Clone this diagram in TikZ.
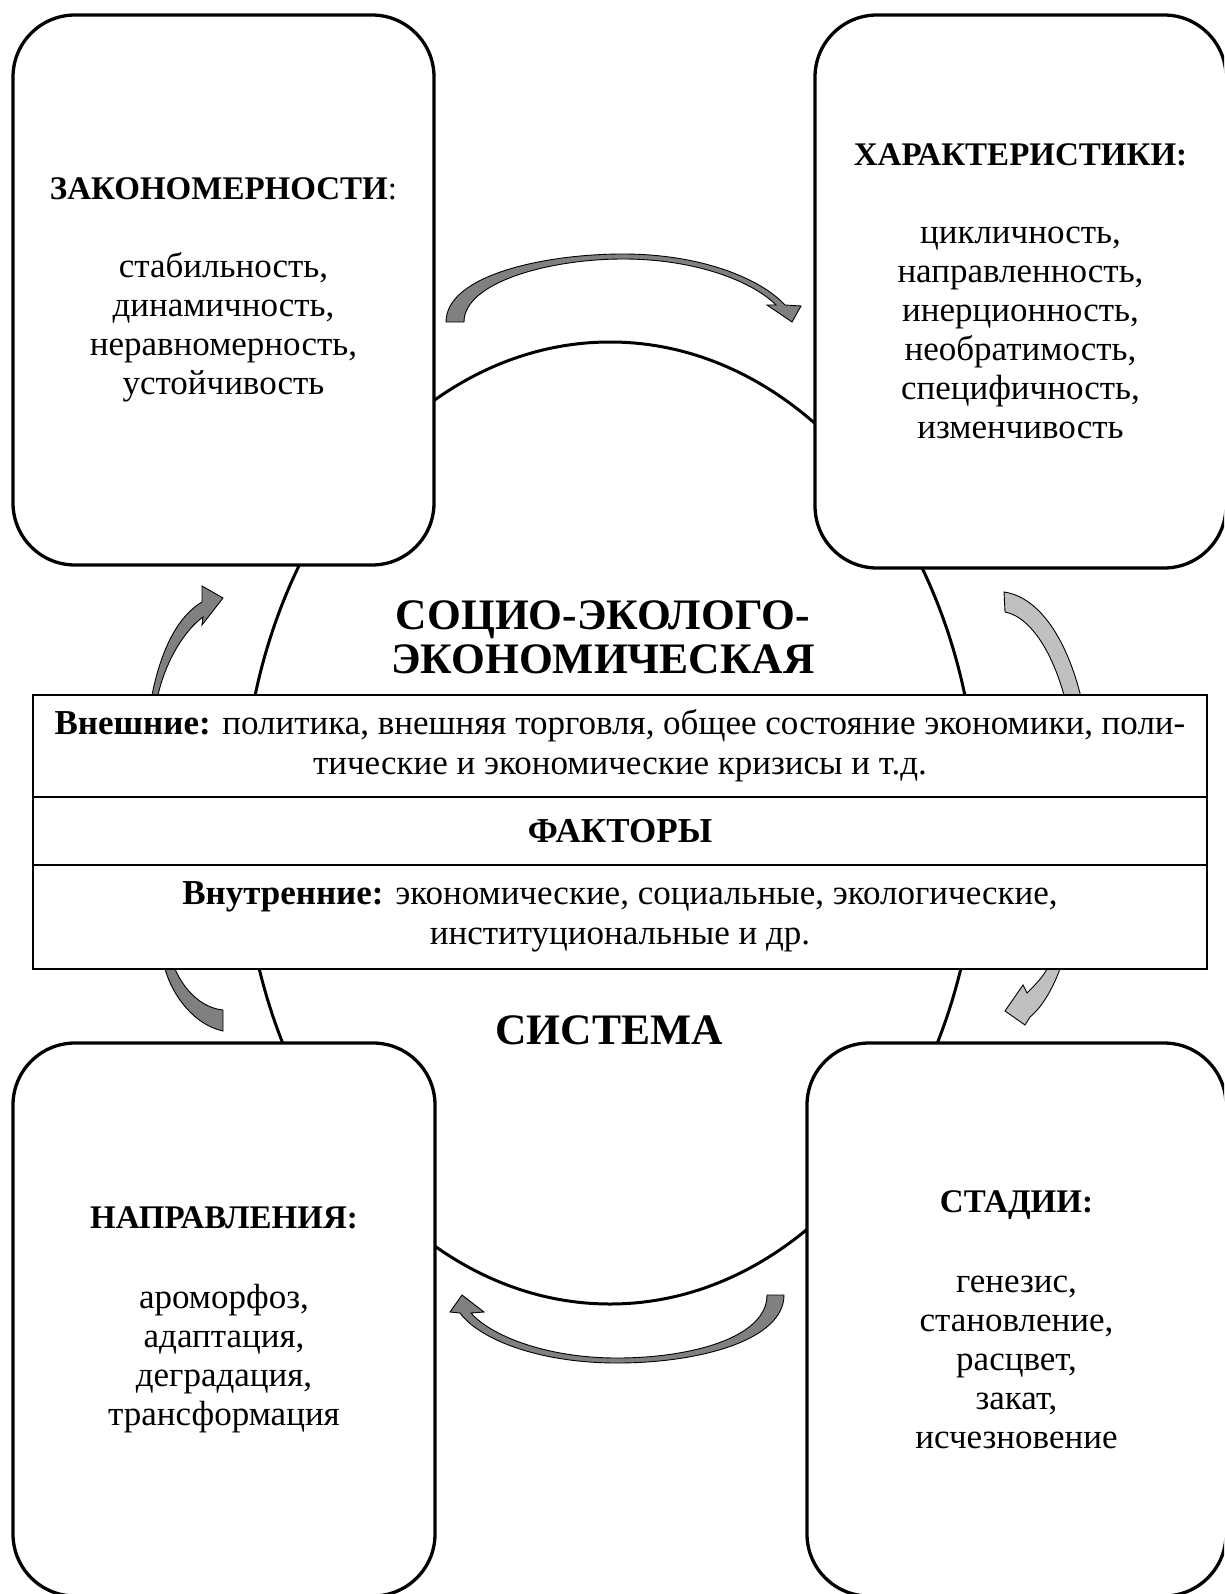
\documentclass[tikz,border=0pt]{standalone}
\usepackage{fontspec}
\setmainfont{Liberation Serif}
\definecolor{arrowdark}{HTML}{808080}
\definecolor{arrowlight}{HTML}{C0C0C0}
\newcommand{\hd}[1]{{\fontsize{33}{39}\selectfont\bfseries #1}}
\tikzset{
  rbox/.style={draw, line width=3.3pt, rounded corners=62pt, fill=white, align=center, inner sep=0pt, font=\fontsize{35}{39}\selectfont},
  trow/.style={draw, line width=1.3pt, fill=white, align=center, inner sep=0pt, minimum width=1174pt, font=\fontsize{35}{40}\selectfont},
  darkarrow/.style={fill=arrowdark, draw=black, line width=0.9pt},
  lightarrow/.style={fill=arrowlight, draw=black, line width=0.9pt},
  titletext/.style={font=\fontsize{43.5}{44}\selectfont\bfseries, align=center, inner sep=0pt}
}
\begin{document}
\begin{tikzpicture}[x=1pt,y=-1pt]
\useasboundingbox (0,0) rectangle (1224,1594);
\clip (0,0) rectangle (1224,1594);
\fill[white] (0,0) rectangle (1224,1594);
% system ellipse
\draw[line width=3pt] (610,823) ellipse [x radius=368pt, y radius=481pt];
% curved arrows
\path[darkarrow] (446,322) .. controls (446,275) and (545,254) .. (623,254)
  .. controls (700,254) and (760,278) .. (785,305) -- (801,306) -- (792,322) -- (767,305) -- (776,305)
  .. controls (752,281) and (695,259) .. (623,259)
  .. controls (550,259) and (464,282) .. (464,322) -- cycle;
\path[darkarrow] (784,1295) .. controls (784,1340) and (700,1363) .. (617,1363)
  .. controls (540,1363) and (480,1340) .. (460,1313) -- (450,1312) -- (462,1295) -- (484,1312) -- (471,1313)
  .. controls (490,1335) and (545,1358) .. (617,1358)
  .. controls (690,1358) and (767,1338) .. (767,1295) -- cycle;
\path[lightarrow] (1004,592) .. controls (1060,600) and (1092,700) .. (1090,780)
  .. controls (1088,870) and (1078,930) .. (1060,969)
  .. controls (1052,990) and (1042,1007) .. (1030,1017) -- (1025,1025) -- (1005,1011) -- (1023,985) -- (1027,993)
  .. controls (1035,985) and (1042,978) .. (1047,969)
  .. controls (1062,930) and (1077,870) .. (1076,780)
  .. controls (1075,700) and (1045,620) .. (1005,612) -- cycle;
\path[darkarrow] (223,1031) .. controls (195,1025) and (173,997) .. (165,969)
  .. controls (145,900) and (138,770) .. (152,695)
  .. controls (162,645) and (180,615) .. (202,602) -- (202,586) -- (223,598) -- (202,625) -- (203,617)
  .. controls (185,630) and (166,660) .. (158,695)
  .. controls (145,770) and (155,900) .. (175,969)
  .. controls (185,992) and (203,1008) .. (223,1010) -- cycle;
% corner boxes
\node[rbox, minimum width=421pt, minimum height=550pt] (zak) at (223.5,290)
  {\textbf{\hd{ЗАКОНОМЕРНОСТИ}}{\fontsize{33}{39}\selectfont:}\\[39pt]стабильность,\\динамичность,\\неравномерность,\\устойчивость};
\node[rbox, minimum width=411pt, minimum height=553pt] (har) at (1020.5,291.5)
  {\hd{ХАРАКТЕРИСТИКИ:}\\[39pt]цикличность,\\направленность,\\инерционность,\\необратимость,\\специфичность,\\изменчивость};
\node[rbox, minimum width=422pt, minimum height=553pt] (nap) at (224,1319.5)
  {\hd{НАПРАВЛЕНИЯ:}\\[41pt]ароморфоз,\\адаптация,\\деградация,\\трансформация};
\node[rbox, minimum width=419pt, minimum height=553pt] (stad) at (1016.5,1319.5)
  {\hd{СТАДИИ:}\\[41pt]генезис,\\становление,\\расцвет,\\закат,\\исчезновение};
% factors table
\node[trow, minimum height=102pt] (ext) at (620,746)
  {\textbf{Внешние:} политика, внешняя торговля, общее состояние экономики, поли-\\тические и экономические кризисы и т.д.};
\node[trow, minimum height=68pt] (fac) at (620,831) {\textbf{ФАКТОРЫ}};
\node[trow, minimum height=104pt] (intl) at (620,917)
  {\textbf{Внутренние:} экономические, социальные, экологические,\\институциональные и др.};
% titles
\node[titletext] (title) at (603,637) {СОЦИО-ЭКОЛОГО-\\ЭКОНОМИЧЕСКАЯ};
\node[titletext] (sys) at (609,1030) {СИСТЕМА};
\end{tikzpicture}
\end{document}
